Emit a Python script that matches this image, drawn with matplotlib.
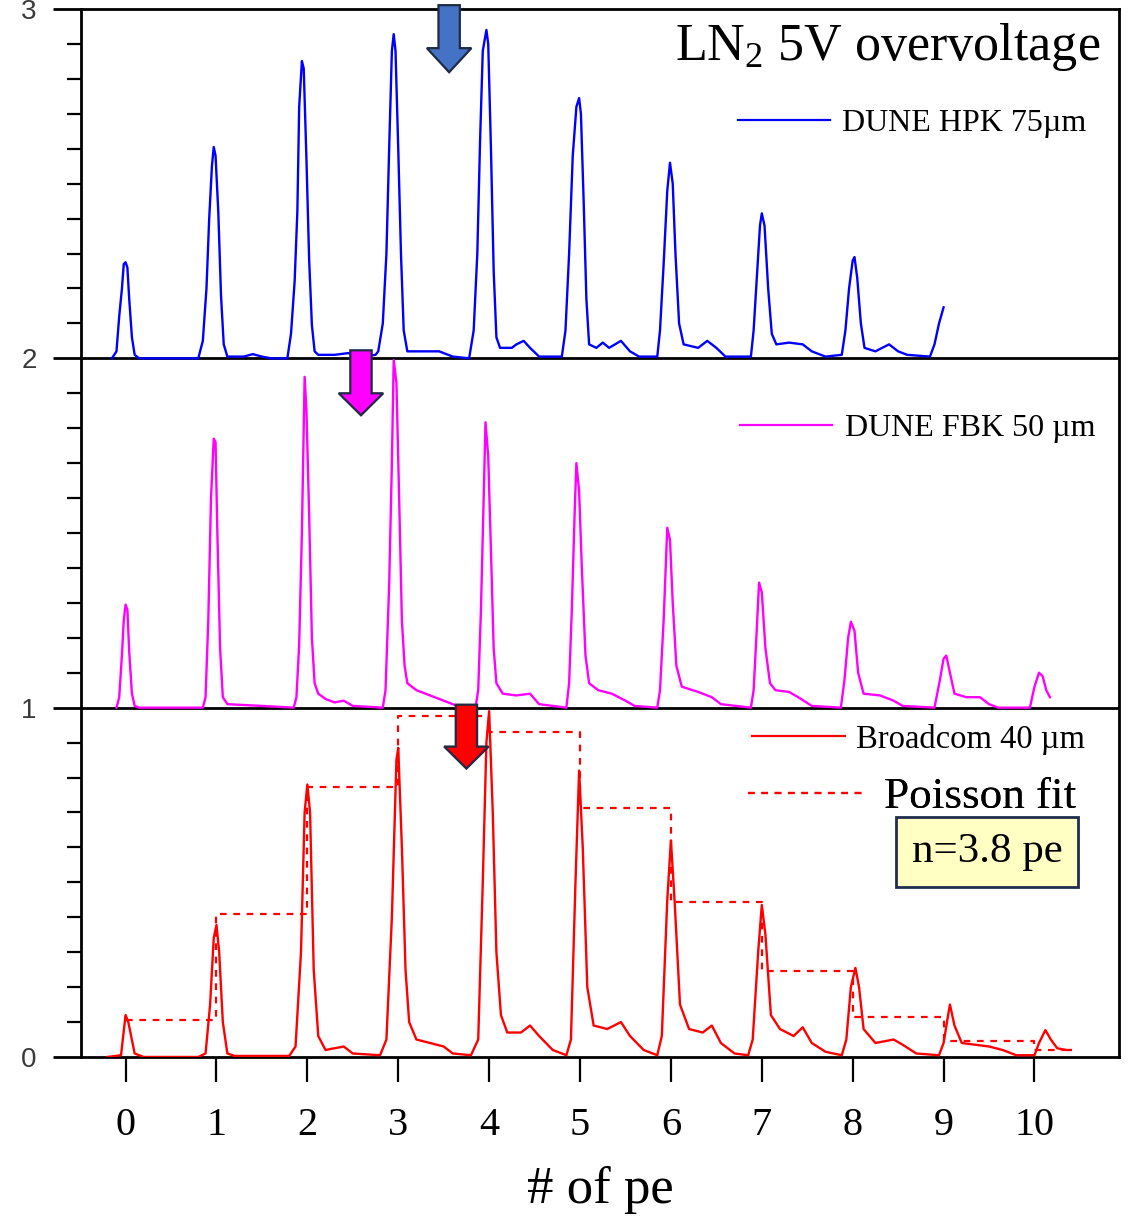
import numpy as np
import matplotlib
matplotlib.use("Agg")
import matplotlib.pyplot as plt
from matplotlib.lines import Line2D
from matplotlib.patches import FancyArrow

plt.rcParams['font.family'] = ['Liberation Serif', 'DejaVu Serif']
plt.rcParams['mathtext.default'] = 'regular'

# spectra, read as (pe, height) points; each panel spans one unit of height
hpk_x = [-0.15, -0.1, -0.07, -0.04, -0.02, 0.0, 0.02, 0.04, 0.07, 0.1, 0.15,
         0.8, 0.85, 0.89, 0.92, 0.95, 0.97, 0.99, 1.02, 1.05, 1.08, 1.12, 1.3, 1.4, 1.5, 1.6,
         1.78, 1.82, 1.86, 1.89, 1.91, 1.94, 1.96, 1.99, 2.02, 2.05, 2.08, 2.12, 2.3, 2.45, 2.6, 2.75,
         2.78, 2.83, 2.87, 2.9, 2.93, 2.95, 2.97, 3.0, 3.03, 3.06, 3.1, 3.3, 3.45, 3.6, 3.78,
         3.83, 3.87, 3.9, 3.93, 3.97, 3.99, 4.02, 4.05, 4.08, 4.12, 4.25, 4.3, 4.38, 4.45, 4.55, 4.8,
         4.84, 4.88, 4.92, 4.96, 4.99, 5.01, 5.04, 5.07, 5.1, 5.18, 5.25, 5.32, 5.45, 5.55, 5.65, 5.85,
         5.88, 5.92, 5.96, 5.99, 6.02, 6.05, 6.09, 6.14, 6.3, 6.4, 6.5, 6.6, 6.88,
         6.91, 6.95, 6.98, 7.0, 7.03, 7.07, 7.11, 7.16, 7.3, 7.45, 7.55, 7.7, 7.88,
         7.92, 7.96, 8.0, 8.02, 8.05, 8.09, 8.13, 8.25, 8.4, 8.5, 8.6, 8.85, 8.9, 8.95, 9.0]
hpk_y = [0.0, 0.02, 0.12, 0.2, 0.27, 0.275, 0.26, 0.17, 0.06, 0.01, 0.0,
         0.0, 0.05, 0.2, 0.4, 0.55, 0.605, 0.58, 0.42, 0.18, 0.04, 0.005, 0.005, 0.012, 0.005, 0.0,
         0.0, 0.07, 0.22, 0.42, 0.72, 0.851, 0.83, 0.57, 0.28, 0.095, 0.02, 0.01, 0.01, 0.015, 0.005, 0.01,
         0.02, 0.1, 0.3, 0.6, 0.88, 0.928, 0.88, 0.6, 0.3, 0.08, 0.02, 0.02, 0.02, 0.005, 0.0,
         0.08, 0.3, 0.62, 0.88, 0.94, 0.9, 0.6, 0.25, 0.06, 0.03, 0.03, 0.04, 0.05, 0.03, 0.005, 0.005,
         0.08, 0.3, 0.58, 0.72, 0.745, 0.7, 0.45, 0.17, 0.04, 0.03, 0.045, 0.03, 0.05, 0.02, 0.005, 0.005,
         0.08, 0.27, 0.48, 0.56, 0.5, 0.3, 0.1, 0.04, 0.03, 0.05, 0.03, 0.005, 0.005,
         0.08, 0.25, 0.38, 0.415, 0.38, 0.2, 0.07, 0.04, 0.045, 0.04, 0.02, 0.005, 0.01,
         0.08, 0.2, 0.28, 0.29, 0.23, 0.1, 0.03, 0.02, 0.04, 0.02, 0.01, 0.005, 0.04, 0.1, 0.146]

fbk_x = [-0.1, -0.07, -0.04, -0.02, 0.0, 0.02, 0.04, 0.07, 0.1, 0.15,
         0.85, 0.88, 0.91, 0.94, 0.97, 0.99, 1.01, 1.04, 1.07, 1.12, 1.5, 1.85,
         1.88, 1.91, 1.94, 1.97, 1.99, 2.02, 2.05, 2.08, 2.12, 2.2, 2.3, 2.4, 2.5, 2.83,
         2.86, 2.9, 2.93, 2.95, 2.98, 3.01, 3.04, 3.07, 3.1, 3.2, 3.3, 3.45, 3.6, 3.7, 3.85,
         3.88, 3.91, 3.94, 3.96, 3.99, 4.02, 4.05, 4.08, 4.15, 4.3, 4.45, 4.55, 4.85,
         4.88, 4.91, 4.94, 4.96, 4.99, 5.02, 5.06, 5.1, 5.2, 5.35, 5.5, 5.6, 5.85,
         5.88, 5.92, 5.96, 5.99, 6.02, 6.06, 6.12, 6.3, 6.45, 6.55, 6.88,
         6.91, 6.94, 6.97, 7.0, 7.04, 7.09, 7.15, 7.3, 7.4, 7.55, 7.87,
         7.91, 7.95, 7.98, 8.02, 8.06, 8.12, 8.3, 8.45, 8.55, 8.9,
         8.96, 9.0, 9.03, 9.07, 9.12, 9.25, 9.4, 9.5, 9.6, 9.95,
         10.0, 10.05, 10.09, 10.13, 10.17]
fbk_y = [0.0, 0.03, 0.15, 0.25, 0.295, 0.28, 0.16, 0.04, 0.005, 0.0,
         0.0, 0.03, 0.25, 0.6, 0.77, 0.76, 0.5, 0.17, 0.03, 0.01, 0.005, 0.0,
         0.03, 0.18, 0.5, 0.947, 0.85, 0.55, 0.2, 0.07, 0.04, 0.025, 0.015, 0.02, 0.005, 0.0,
         0.05, 0.35, 0.7, 0.995, 0.93, 0.6, 0.25, 0.12, 0.07, 0.05, 0.04, 0.025, 0.01, 0.0, 0.0,
         0.05, 0.28, 0.6, 0.817, 0.72, 0.45, 0.17, 0.07, 0.04, 0.035, 0.04, 0.01, 0.0,
         0.07, 0.28, 0.55, 0.7, 0.62, 0.4, 0.15, 0.07, 0.05, 0.04, 0.02, 0.005, 0.0,
         0.05, 0.25, 0.515, 0.48, 0.3, 0.12, 0.06, 0.045, 0.03, 0.01, 0.0,
         0.05, 0.2, 0.358, 0.33, 0.17, 0.07, 0.05, 0.045, 0.03, 0.005, 0.0,
         0.08, 0.2, 0.246, 0.22, 0.1, 0.04, 0.035, 0.02, 0.005, 0.0,
         0.08, 0.14, 0.149, 0.1, 0.04, 0.03, 0.03, 0.01, 0.0, 0.0,
         0.06, 0.1, 0.09, 0.05, 0.03]

bcm_x = [-0.2, -0.05, 0.0, 0.03, 0.1, 0.2,
         0.8, 0.88, 0.93, 0.97, 1.0, 1.03, 1.07, 1.12, 1.2, 1.8,
         1.87, 1.93, 1.97, 2.0, 2.03, 2.07, 2.12, 2.2, 2.4, 2.5, 2.8,
         2.87, 2.93, 2.98, 3.0, 3.04, 3.08, 3.12, 3.2, 3.35, 3.5, 3.6, 3.8,
         3.88, 3.93, 3.97, 4.0, 4.04, 4.08, 4.13, 4.2, 4.35, 4.45, 4.55, 4.7, 4.85,
         4.9, 4.95, 4.99, 5.03, 5.08, 5.15, 5.3, 5.45, 5.55, 5.7, 5.85,
         5.9, 5.96, 6.0, 6.04, 6.1, 6.2, 6.35, 6.45, 6.55, 6.7, 6.85,
         6.9, 6.96, 7.0, 7.04, 7.1, 7.2, 7.35, 7.45, 7.55, 7.7, 7.88,
         7.93, 7.98, 8.03, 8.07, 8.12, 8.25, 8.45, 8.55, 8.7, 8.95,
         9.0, 9.05, 9.07, 9.12, 9.2, 9.35, 9.5, 9.65, 9.8, 10.0,
         10.05, 10.12, 10.18, 10.25, 10.35, 10.4]
bcm_y = [0.0, 0.005, 0.12, 0.1, 0.01, 0.0,
         0.0, 0.01, 0.15, 0.34, 0.378, 0.3, 0.1, 0.01, 0.003, 0.003,
         0.03, 0.3, 0.7, 0.78, 0.7, 0.25, 0.06, 0.02, 0.03, 0.01, 0.005,
         0.05, 0.4, 0.85, 0.885, 0.6, 0.25, 0.1, 0.05, 0.04, 0.03, 0.01, 0.005,
         0.05, 0.5, 0.9, 0.99, 0.7, 0.3, 0.12, 0.07, 0.07, 0.09, 0.06, 0.02, 0.005,
         0.05, 0.5, 0.82, 0.6, 0.2, 0.09, 0.08, 0.1, 0.06, 0.02, 0.005,
         0.06, 0.45, 0.62, 0.45, 0.15, 0.08, 0.07, 0.09, 0.04, 0.01, 0.005,
         0.05, 0.3, 0.435, 0.35, 0.12, 0.08, 0.06, 0.085, 0.04, 0.015, 0.005,
         0.05, 0.2, 0.255, 0.2, 0.08, 0.04, 0.05, 0.035, 0.01, 0.005,
         0.04, 0.12, 0.15, 0.09, 0.04, 0.035, 0.03, 0.02, 0.005, 0.005,
         0.04, 0.077, 0.05, 0.025, 0.02, 0.02]

# Poisson fit (n = 3.8 pe), one level per photoelectron bin
fit_edges = [0, 1, 2, 3, 4, 5, 6, 7, 8, 9, 10, 10.35]
fit_y = [0.106, 0.41, 0.774, 0.977, 0.93, 0.712, 0.445, 0.245, 0.115, 0.047, 0.02]

pe_ticks = list(range(11))
y_ticks = [0, 1, 2, 3]

fig = plt.figure(figsize=(11.35, 12.18), dpi=100)
ax = fig.add_axes([0.0714, 0.1322, 0.9145, 0.8604])

ax.plot(hpk_x, np.array(hpk_y) + 2, color='#0000FF', lw=1.7, zorder=3)
ax.plot(fbk_x, np.array(fbk_y) + 1, color='#FF00FF', lw=1.7, zorder=3)
ax.plot(bcm_x, bcm_y, color='#FF0000', lw=1.7, zorder=3)
ax.plot(fit_edges, fit_y + [fit_y[-1]], drawstyle='steps-post', color='#FF0000',
        lw=1.6, dashes=(3, 3), zorder=3)

# panel separators
for yv in (1, 2):
    ax.axhline(yv, color='black', lw=2, zorder=2)

ax.set_xlim(-0.49, 10.93)
ax.set_ylim(0, 3)
for s in ax.spines.values():
    s.set_linewidth(2)

ax.set_xticks(pe_ticks)
ax.set_xticklabels([str(t) for t in pe_ticks])
ax.tick_params(axis='x', direction='out', length=18, width=1.6, pad=18, labelsize=29)
ax.set_yticks(y_ticks)
ax.set_yticks(np.arange(0, 3.01, 0.1), minor=True)
ax.tick_params(axis='y', which='major', direction='out', length=20, width=2,
               pad=12, labelsize=20, labelcolor='#3a3a3a')
ax.tick_params(axis='y', which='minor', direction='out', length=10, width=1.6)
for lbl in ax.get_yticklabels():
    lbl.set_fontfamily('Liberation Sans')

ax.set_xlabel('# of pe', fontsize=38, labelpad=16)

ax.text(0.982, 0.951, r'LN$_2$ 5V overvoltage', transform=ax.transAxes,
        ha='right', va='baseline', fontsize=37.5)


def add_key(color, dashes, label, size, anchor, hl, pad):
    h = Line2D([], [], color=color, lw=1.6)
    if dashes:
        h.set_dashes(dashes)
    leg = ax.legend(handles=[h], labels=[label], loc='center left', bbox_to_anchor=anchor,
                    frameon=False, borderpad=0, borderaxespad=0, handlelength=hl,
                    handletextpad=pad, prop={'family': 'Liberation Serif', 'size': size})
    ax.add_artist(leg)


add_key('#0000FF', None, 'DUNE HPK 75\u00b5m', 23, (0.633, 0.891), 2.87, 0.38)
add_key('#FF00FF', None, 'DUNE FBK 50 \u00b5m', 23, (0.635, 0.600), 2.87, 0.4)
add_key('#FF0000', None, 'Broadcom 40 \u00b5m', 23.5, (0.646, 0.3034), 2.86, 0.33)
add_key('#FF0000', (3, 3), 'Poisson fit', 32.5, (0.6426, 0.248), 2.52, 0.49)

ax.text(0.873, 0.1956, 'n=3.8 pe', transform=ax.transAxes, ha='center', va='center',
        fontsize=31, zorder=5,
        bbox=dict(boxstyle='square,pad=0.37', facecolor='#FFFFC4', edgecolor='#1F2D4F', lw=2))

# arrows marking the mean number of photoelectrons
arrow_specs = [(3.56, 3.011, 0.192, 0.069, '#4472C4'),
               (2.59, 2.023, 0.186, 0.063, '#FF00FF'),
               (3.75, 1.0086, 0.183, 0.063, '#FF0000')]
for ax_x, top, length, head, col in arrow_specs:
    arr = FancyArrow(ax_x, top, 0, -length, width=0.235, head_width=0.49, head_length=head,
                     length_includes_head=True, facecolor=col, edgecolor='#1F2A44',
                     lw=1.6, zorder=6, clip_on=False)
    ax.add_patch(arr)

fig.savefig('out.png', dpi=100)
